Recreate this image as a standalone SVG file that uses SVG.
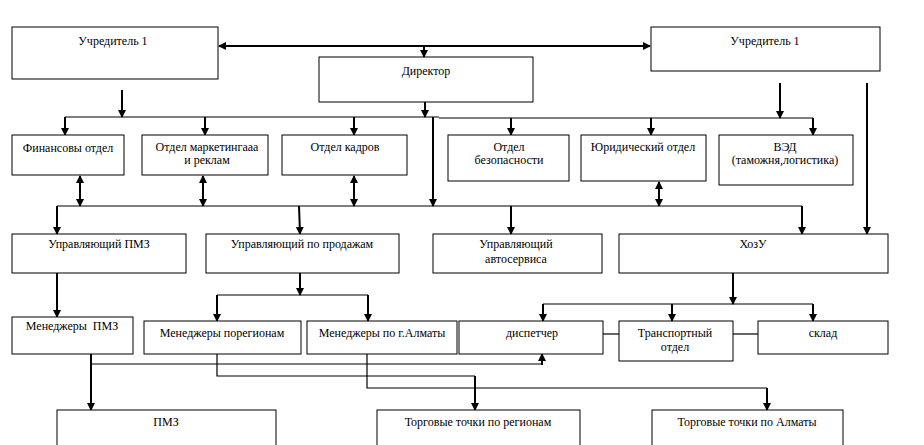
<svg xmlns="http://www.w3.org/2000/svg" width="924" height="445" viewBox="0 0 924 445">
<style>
.box{fill:#fff;stroke:#000;stroke-width:1}
text{font-family:"Liberation Serif","Times New Roman",serif;font-size:12px;fill:#000;text-anchor:middle}
.c{fill:none;stroke:#000;stroke-width:2}
.t{fill:none;stroke:#000;stroke-width:1.2}
.a{marker-end:url(#ah)}
.d{marker-end:url(#ah);marker-start:url(#ah)}
</style>
<defs>
<marker id="ah" markerUnits="userSpaceOnUse" markerWidth="8" markerHeight="8" refX="7" refY="4" orient="auto-start-reverse">
<path d="M0,0 L8,4 L0,8 z" fill="#000"/>
</marker>
</defs>
<rect width="924" height="445" fill="#fff"/>
<g id="connectors">
<path class="c d" d="M219 46 H650"/>
<path class="c a" d="M424 46 V57"/>
<path class="c a" d="M122 90 V117"/>
<path class="c a" d="M780 83 V118"/>
<path class="c a" d="M867 83 V234"/>
<path class="c a" d="M425 102 V117"/>
<path class="t" d="M65 117 H439"/>
<path class="t" d="M439 118 H813"/>
<path class="c a" d="M65 117 V135"/>
<path class="c a" d="M205 117 V135"/>
<path class="c a" d="M354 117 V135"/>
<path class="c a" d="M511 118 V135"/>
<path class="c a" d="M651 118 V135"/>
<path class="c a" d="M813 118 V135"/>
<path class="c a" d="M433 117 V206"/>
<path class="c d" d="M80 176 V206"/>
<path class="c d" d="M203 176 V206"/>
<path class="c d" d="M354 176 V206"/>
<path class="c d" d="M659 182 V206"/>
<path class="t" d="M57 206 H802"/>
<path class="c a" d="M57 206 V234"/>
<path class="c a" d="M299 206 L300 234"/>
<path class="c a" d="M511 206 V234"/>
<path class="c a" d="M802 206 V234"/>
<path class="c a" d="M57 273 V317"/>
<path class="c a" d="M300 273 V295"/>
<path class="t" d="M217 295 H368"/>
<path class="c a" d="M217 295 V321"/>
<path class="c a" d="M368 295 V321"/>
<path class="c a" d="M733 273 V304"/>
<path class="t" d="M543 304 H813"/>
<path class="c a" d="M543 304 V321"/>
<path class="c a" d="M672 304 V321"/>
<path class="c a" d="M813 304 V321"/>
<path class="t" d="M603 334 H619"/>
<path class="t" d="M733 334 H758"/>
<path class="c a" d="M91 347 V410"/>
<path class="t" d="M91 364 H542"/>
<path class="c a" d="M542 365 V354"/>
<path class="t" d="M217 354 V376 H475"/>
<path class="c a" d="M475 376 V410"/>
<path class="t" d="M367 354 V388 H767"/>
<path class="c a" d="M767 388 V410"/>
</g>
<g id="founder1"><rect class="box" x="12" y="27" width="206" height="52"/><text x="113" y="45">Учредитель 1</text></g>
<g id="founder2"><rect class="box" x="651" y="27" width="229" height="44"/><text x="765" y="45">Учредитель 1</text></g>
<g id="director"><rect class="box" x="319" y="57" width="214" height="45"/><text x="426" y="75">Директор</text></g>
<g id="fin"><rect class="box" x="12" y="135" width="112" height="40"/><text x="68" y="152">Финансовы отдел</text></g>
<g id="mkt"><rect class="box" x="142" y="135" width="126" height="40"/><text x="207" y="151">Отдел маркетингааа</text><text x="207" y="164">и реклам</text></g>
<g id="hr"><rect class="box" x="282" y="135" width="125" height="40"/><text x="345" y="151">Отдел кадров</text></g>
<g id="sec"><rect class="box" x="448" y="135" width="121" height="46"/><text x="509" y="151">Отдел</text><text x="509" y="164">безопасности</text></g>
<g id="legal"><rect class="box" x="581" y="135" width="125" height="46"/><text x="643" y="151">Юридический отдел</text></g>
<g id="ved"><rect class="box" x="719" y="135" width="134" height="50"/><text x="785" y="151">ВЭД</text><text x="785" y="164">(таможня,логистика)</text></g>
<g id="mgrpmz"><rect class="box" x="12" y="234" width="174" height="39"/><text x="99" y="248">Управляющий ПМЗ</text></g>
<g id="mgrsales"><rect class="box" x="206" y="234" width="193" height="39"/><text x="302" y="248">Управляющий по продажам</text></g>
<g id="mgrauto"><rect class="box" x="433" y="234" width="169" height="39"/><text x="516" y="248">Управляющий</text><text x="516" y="263">автосервиса</text></g>
<g id="hoz"><rect class="box" x="619" y="234" width="269" height="39"/><text x="753" y="248">ХозУ</text></g>
<g id="mpmz"><rect class="box" x="12" y="317" width="121" height="37"/><text x="72" y="330" xml:space="preserve">Менеджеры  ПМЗ</text></g>
<g id="mreg"><rect class="box" x="144" y="321" width="157" height="33"/><text x="222" y="337">Менеджеры порегионам</text></g>
<g id="malm"><rect class="box" x="307" y="321" width="150" height="33"/><text x="382" y="337">Менеджеры по г.Алматы</text></g>
<g id="disp"><rect class="box" x="459" y="321" width="144" height="33"/><text x="532" y="337">диспетчер</text></g>
<g id="trans"><rect class="box" x="619" y="321" width="114" height="40"/><text x="675" y="337">Транспортный</text><text x="675" y="351">отдел</text></g>
<g id="sklad"><rect class="box" x="758" y="321" width="130" height="33"/><text x="823" y="337">склад</text></g>
<g id="pmz"><rect class="box" x="57" y="410" width="219" height="40"/><text x="166" y="426">ПМЗ</text></g>
<g id="treg"><rect class="box" x="377" y="410" width="203" height="40"/><text x="478" y="426">Торговые точки по регионам</text></g>
<g id="talm"><rect class="box" x="652" y="410" width="191" height="40"/><text x="747" y="426">Торговые точки по Алматы</text></g>
</svg>
